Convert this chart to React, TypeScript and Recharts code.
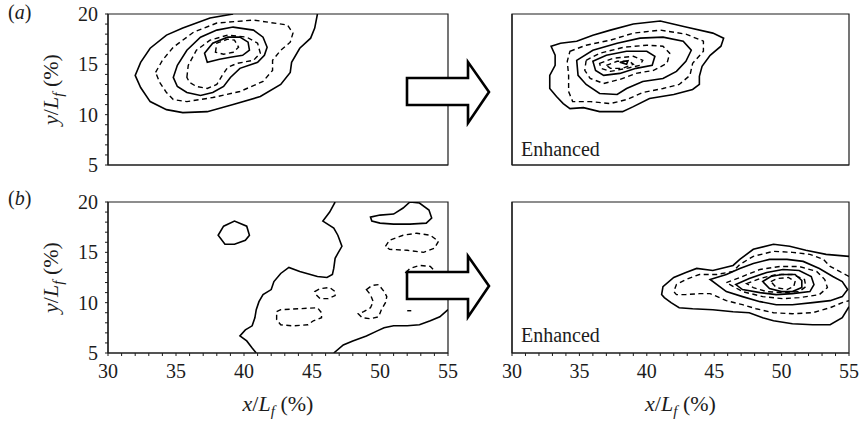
import { Line, LineChart, ReferenceArea, XAxis, YAxis } from 'recharts'

type Pt = { x: number; y: number }
type Contour = { data: Pt[]; dashed?: boolean; closed?: boolean }

const xTickLabels = [30, 35, 40, 45, 50, 55]
const yTickLabels = [5, 10, 15, 20]
const xTicks = Array.from({ length: 26 }, (_, i) => 30 + i)
const yTicks = Array.from({ length: 16 }, (_, i) => 5 + i)

// (a) measured
const aOuter: Pt[] = [
  { x: 39.2, y: 20 }, { x: 37.5, y: 19.6 }, { x: 35.5, y: 18.6 }, { x: 34.3, y: 17.9 },
  { x: 33.1, y: 16.6 }, { x: 32.4, y: 15.2 }, { x: 32.0, y: 13.9 }, { x: 32.4, y: 12.7 },
  { x: 33.1, y: 11.3 }, { x: 34.3, y: 10.5 }, { x: 35.5, y: 10.2 }, { x: 37.3, y: 10.3 },
  { x: 39.2, y: 11.0 }, { x: 41.2, y: 11.8 }, { x: 42.7, y: 13.0 }, { x: 43.4, y: 14.2 },
  { x: 43.5, y: 15.2 }, { x: 44.1, y: 16.6 }, { x: 44.9, y: 17.6 }, { x: 45.2, y: 18.6 },
  { x: 45.4, y: 20 },
]
const aDash1: Pt[] = [
  { x: 33.5, y: 14.2 }, { x: 34.0, y: 15.4 }, { x: 34.8, y: 16.7 }, { x: 36.3, y: 18.2 },
  { x: 38.0, y: 19.1 }, { x: 40.7, y: 19.4 }, { x: 43.2, y: 18.9 }, { x: 43.6, y: 18.1 },
  { x: 43.4, y: 17.2 }, { x: 42.7, y: 16.4 }, { x: 42.1, y: 15.4 }, { x: 42.1, y: 14.4 },
  { x: 41.4, y: 13.3 }, { x: 39.7, y: 12.3 }, { x: 37.7, y: 11.7 }, { x: 35.8, y: 11.3 },
  { x: 34.8, y: 11.5 }, { x: 34.3, y: 12.2 }, { x: 33.8, y: 13.2 },
]
const aSolid2: Pt[] = [
  { x: 34.8, y: 13.7 }, { x: 35.1, y: 14.9 }, { x: 35.8, y: 16.4 }, { x: 36.8, y: 17.7 },
  { x: 38.0, y: 18.4 }, { x: 39.2, y: 18.7 }, { x: 40.7, y: 18.4 }, { x: 41.4, y: 17.7 },
  { x: 41.7, y: 16.7 }, { x: 41.5, y: 15.9 }, { x: 41.0, y: 15.2 }, { x: 39.7, y: 14.6 },
  { x: 39.0, y: 13.7 }, { x: 38.5, y: 12.8 }, { x: 37.7, y: 12.2 }, { x: 36.8, y: 11.9 },
  { x: 35.8, y: 12.2 }, { x: 35.1, y: 12.8 },
]
const aDash2: Pt[] = [
  { x: 35.8, y: 13.7 }, { x: 35.9, y: 14.9 }, { x: 36.5, y: 16.4 }, { x: 37.5, y: 17.4 },
  { x: 38.8, y: 17.9 }, { x: 40.2, y: 17.7 }, { x: 41.0, y: 17.1 }, { x: 41.2, y: 16.1 },
  { x: 40.7, y: 15.4 }, { x: 39.5, y: 15.1 }, { x: 38.8, y: 14.7 }, { x: 38.4, y: 13.9 },
  { x: 38.0, y: 13.0 }, { x: 37.3, y: 12.6 }, { x: 36.5, y: 12.8 }, { x: 36.0, y: 13.2 },
]
const aSolid3: Pt[] = [
  { x: 37.3, y: 15.2 }, { x: 37.1, y: 16.1 }, { x: 37.7, y: 17.1 }, { x: 38.8, y: 17.7 },
  { x: 39.7, y: 17.7 }, { x: 40.3, y: 17.2 }, { x: 40.4, y: 16.4 }, { x: 39.9, y: 15.9 },
  { x: 39.0, y: 15.7 }, { x: 38.2, y: 15.5 },
]
const aDash3: Pt[] = [
  { x: 37.9, y: 16.2 }, { x: 38.0, y: 17.1 }, { x: 38.8, y: 17.5 }, { x: 39.3, y: 17.4 },
  { x: 39.6, y: 16.7 }, { x: 39.2, y: 16.2 }, { x: 38.5, y: 16.0 },
]

// (a) enhanced
const aeOuter: Pt[] = [
  { x: 32.9, y: 16.8 }, { x: 33.6, y: 17.1 }, { x: 34.8, y: 17.3 }, { x: 36.0, y: 17.9 },
  { x: 37.3, y: 18.4 }, { x: 39.0, y: 19.0 }, { x: 41.0, y: 19.3 }, { x: 42.9, y: 18.7 },
  { x: 44.9, y: 18.1 }, { x: 45.7, y: 17.6 }, { x: 45.5, y: 16.8 }, { x: 44.7, y: 15.9 },
  { x: 44.1, y: 14.8 }, { x: 43.9, y: 13.8 }, { x: 43.9, y: 13.0 }, { x: 43.4, y: 12.5 },
  { x: 42.0, y: 12.0 }, { x: 40.2, y: 11.6 }, { x: 39.0, y: 10.8 }, { x: 38.2, y: 10.3 },
  { x: 36.5, y: 10.3 }, { x: 35.3, y: 10.7 }, { x: 34.3, y: 10.6 }, { x: 33.8, y: 11.1 },
  { x: 33.3, y: 11.8 }, { x: 32.8, y: 12.6 }, { x: 32.8, y: 13.9 }, { x: 33.2, y: 14.9 },
  { x: 33.2, y: 15.9 },
]
const aeDash1: Pt[] = [
  { x: 34.3, y: 16.3 }, { x: 35.5, y: 16.9 }, { x: 37.3, y: 17.4 }, { x: 39.0, y: 18.1 },
  { x: 41.0, y: 18.4 }, { x: 42.9, y: 18.0 }, { x: 44.2, y: 17.3 }, { x: 44.2, y: 16.3 },
  { x: 43.4, y: 15.1 }, { x: 43.2, y: 13.9 }, { x: 42.4, y: 13.0 }, { x: 41.2, y: 12.6 },
  { x: 39.7, y: 12.2 }, { x: 38.5, y: 11.5 }, { x: 37.3, y: 11.1 }, { x: 35.8, y: 11.3 },
  { x: 34.5, y: 11.3 }, { x: 34.2, y: 12.3 }, { x: 34.2, y: 13.9 }, { x: 34.1, y: 15.3 },
]
const aeSolid2: Pt[] = [
  { x: 34.8, y: 15.4 }, { x: 36.0, y: 16.4 }, { x: 37.8, y: 17.1 }, { x: 39.5, y: 17.6 },
  { x: 41.2, y: 17.7 }, { x: 42.7, y: 17.3 }, { x: 43.3, y: 16.4 }, { x: 42.9, y: 15.3 },
  { x: 42.2, y: 14.3 }, { x: 41.2, y: 13.6 }, { x: 39.7, y: 13.3 }, { x: 38.5, y: 12.6 },
  { x: 37.8, y: 12.0 }, { x: 36.5, y: 12.1 }, { x: 35.5, y: 13.0 }, { x: 34.9, y: 13.9 },
]
const aeDash2: Pt[] = [
  { x: 35.5, y: 15.4 }, { x: 36.5, y: 16.1 }, { x: 38.3, y: 16.7 }, { x: 40.0, y: 16.9 },
  { x: 41.2, y: 16.8 }, { x: 41.7, y: 16.1 }, { x: 41.5, y: 15.1 }, { x: 40.5, y: 14.4 },
  { x: 39.2, y: 14.1 }, { x: 38.0, y: 13.5 }, { x: 36.8, y: 13.1 }, { x: 35.8, y: 13.6 },
  { x: 35.4, y: 14.4 },
]
const aeSolid3: Pt[] = [
  { x: 36.0, y: 15.3 }, { x: 37.0, y: 15.9 }, { x: 38.5, y: 16.3 }, { x: 40.0, y: 16.3 },
  { x: 40.6, y: 15.8 }, { x: 40.4, y: 14.9 }, { x: 39.2, y: 14.6 }, { x: 38.0, y: 14.1 },
  { x: 36.8, y: 13.9 }, { x: 36.2, y: 14.4 },
]
const aeDash3: Pt[] = [
  { x: 36.5, y: 15.1 }, { x: 37.5, y: 15.6 }, { x: 39.0, y: 15.8 }, { x: 39.7, y: 15.4 },
  { x: 39.5, y: 14.9 }, { x: 38.5, y: 14.6 }, { x: 37.3, y: 14.3 }, { x: 36.6, y: 14.6 },
]
const aeDash4: Pt[] = [
  { x: 37.0, y: 14.9 }, { x: 37.8, y: 15.3 }, { x: 38.7, y: 15.3 }, { x: 39.0, y: 15.0 },
  { x: 38.2, y: 14.6 }, { x: 37.3, y: 14.6 },
]
const aePeak: Pt[] = [{ x: 38.0, y: 15.2 }, { x: 38.6, y: 15.35 }, { x: 38.5, y: 15.0 }]

// (b) measured
const bIsland: Pt[] = [
  { x: 38.1, y: 16.7 }, { x: 38.5, y: 17.6 }, { x: 39.3, y: 18.1 }, { x: 40.2, y: 17.6 },
  { x: 40.4, y: 16.7 }, { x: 40.1, y: 16.2 }, { x: 39.3, y: 15.8 }, { x: 38.6, y: 15.8 },
]
const bRidge: Pt[] = [
  { x: 46.7, y: 20 }, { x: 46.3, y: 19.0 }, { x: 45.8, y: 18.1 }, { x: 46.6, y: 17.4 },
  { x: 46.9, y: 16.7 }, { x: 47.2, y: 15.6 }, { x: 46.9, y: 14.9 }, { x: 46.7, y: 14.4 },
  { x: 46.6, y: 13.4 }, { x: 46.5, y: 12.8 }, { x: 46.1, y: 12.5 }, { x: 45.4, y: 12.6 },
  { x: 44.1, y: 13.1 }, { x: 43.3, y: 13.5 }, { x: 42.7, y: 12.9 }, { x: 42.2, y: 12.1 },
  { x: 42.0, y: 11.3 }, { x: 41.4, y: 10.8 }, { x: 41.1, y: 10.1 }, { x: 40.9, y: 9.3 },
  { x: 40.8, y: 8.5 }, { x: 40.6, y: 7.7 }, { x: 40.1, y: 7.3 }, { x: 39.7, y: 6.7 },
  { x: 40.2, y: 6.2 }, { x: 40.6, y: 5.5 }, { x: 40.9, y: 5 },
]
const bFloor: Pt[] = [
  { x: 46.6, y: 5 }, { x: 47.3, y: 5.8 }, { x: 48.0, y: 6.2 }, { x: 49.0, y: 6.7 },
  { x: 49.8, y: 7.2 }, { x: 50.3, y: 7.5 }, { x: 51.0, y: 7.7 }, { x: 52.0, y: 7.7 },
  { x: 52.9, y: 7.8 }, { x: 53.7, y: 8.2 }, { x: 54.4, y: 8.6 }, { x: 55, y: 9.3 },
]
const bTopLoop: Pt[] = [
  { x: 49.3, y: 18.5 }, { x: 50.0, y: 18.7 }, { x: 51.0, y: 18.8 }, { x: 51.7, y: 19.4 },
  { x: 52.2, y: 20.0 }, { x: 52.9, y: 19.9 }, { x: 53.6, y: 19.2 }, { x: 53.8, y: 18.4 },
  { x: 53.4, y: 17.9 }, { x: 52.2, y: 17.8 }, { x: 51.0, y: 17.8 }, { x: 50.0, y: 17.9 },
  { x: 49.4, y: 18.1 },
]
const bDashUpper: Pt[] = [
  { x: 50.4, y: 15.6 }, { x: 50.7, y: 16.2 }, { x: 51.7, y: 16.7 }, { x: 52.7, y: 16.9 },
  { x: 53.7, y: 16.7 }, { x: 54.3, y: 16.1 }, { x: 54.0, y: 15.4 }, { x: 53.2, y: 15.0 },
  { x: 52.0, y: 15.2 }, { x: 50.7, y: 15.3 },
]
const bDashHidden: Pt[] = [
  { x: 51.9, y: 13.0 }, { x: 52.2, y: 13.4 }, { x: 52.9, y: 13.7 }, { x: 53.7, y: 13.6 },
  { x: 54.0, y: 13.2 }, { x: 53.5, y: 12.6 }, { x: 52.5, y: 12.6 },
]
const bDashSmall: Pt[] = [
  { x: 45.2, y: 11.1 }, { x: 45.6, y: 11.4 }, { x: 46.3, y: 11.5 }, { x: 46.7, y: 11.1 },
  { x: 46.7, y: 10.7 }, { x: 46.2, y: 10.4 }, { x: 45.6, y: 10.4 }, { x: 45.3, y: 10.8 },
]
const bDashBox: Pt[] = [
  { x: 42.4, y: 9.1 }, { x: 42.7, y: 9.3 }, { x: 44.1, y: 9.4 }, { x: 45.4, y: 9.5 },
  { x: 45.7, y: 9.0 }, { x: 45.7, y: 8.5 }, { x: 45.1, y: 8.2 }, { x: 44.7, y: 7.8 },
  { x: 43.6, y: 7.7 }, { x: 42.7, y: 7.8 }, { x: 42.4, y: 8.3 },
]
const bDashHook: Pt[] = [
  { x: 49.0, y: 11.3 }, { x: 49.4, y: 11.7 }, { x: 49.9, y: 11.8 }, { x: 50.3, y: 11.1 },
  { x: 50.5, y: 10.6 }, { x: 50.4, y: 10.0 }, { x: 50.1, y: 9.3 }, { x: 49.9, y: 8.6 },
  { x: 49.3, y: 8.4 }, { x: 48.7, y: 8.5 }, { x: 48.4, y: 8.9 }, { x: 48.8, y: 9.1 },
  { x: 49.3, y: 9.5 }, { x: 49.5, y: 10.1 }, { x: 49.3, y: 10.8 },
]
const bDot: Pt[] = [{ x: 52.0, y: 9.2 }, { x: 52.3, y: 9.2 }]

// (b) enhanced
const beOuter: Pt[] = [
  { x: 55, y: 14.6 }, { x: 53.3, y: 14.8 }, { x: 51.8, y: 15.2 }, { x: 50.6, y: 15.6 },
  { x: 49.4, y: 15.8 }, { x: 47.9, y: 15.3 }, { x: 46.9, y: 14.3 }, { x: 46.4, y: 13.7 },
  { x: 44.9, y: 13.2 }, { x: 43.7, y: 13.4 }, { x: 42.9, y: 13.0 }, { x: 42.0, y: 12.5 },
  { x: 41.2, y: 11.6 }, { x: 41.1, y: 10.8 }, { x: 41.3, y: 10.5 }, { x: 41.8, y: 10.0 },
  { x: 42.4, y: 9.5 }, { x: 43.4, y: 9.4 }, { x: 44.9, y: 9.3 }, { x: 46.4, y: 9.1 },
  { x: 47.6, y: 9.0 }, { x: 48.6, y: 8.5 }, { x: 49.4, y: 8.2 }, { x: 50.8, y: 7.9 },
  { x: 52.3, y: 7.8 }, { x: 53.6, y: 7.8 }, { x: 54.5, y: 8.5 }, { x: 55, y: 9.6 },
]
const beDash1: Pt[] = [
  { x: 55, y: 12.6 }, { x: 54.3, y: 13.1 }, { x: 53.6, y: 13.6 }, { x: 53.1, y: 14.3 },
  { x: 52.1, y: 14.8 }, { x: 50.8, y: 15.0 }, { x: 49.4, y: 15.1 }, { x: 47.9, y: 14.6 },
  { x: 46.9, y: 13.8 }, { x: 46.4, y: 13.1 }, { x: 45.2, y: 12.8 }, { x: 43.9, y: 12.8 },
  { x: 42.9, y: 12.3 }, { x: 42.2, y: 11.8 }, { x: 42.0, y: 11.1 }, { x: 42.2, y: 10.8 },
  { x: 42.9, y: 10.8 }, { x: 43.9, y: 10.9 }, { x: 44.7, y: 10.9 }, { x: 45.9, y: 10.2 },
  { x: 47.1, y: 9.8 }, { x: 48.1, y: 9.4 }, { x: 49.4, y: 9.0 }, { x: 50.8, y: 8.9 },
  { x: 52.3, y: 9.0 }, { x: 53.6, y: 9.5 }, { x: 54.5, y: 10.0 }, { x: 55, y: 10.2 },
]
const beSolid2: Pt[] = [
  { x: 44.7, y: 12.3 }, { x: 45.9, y: 12.8 }, { x: 46.9, y: 13.4 }, { x: 47.9, y: 13.9 },
  { x: 49.1, y: 14.3 }, { x: 50.4, y: 14.3 }, { x: 51.6, y: 14.1 }, { x: 52.8, y: 13.4 },
  { x: 53.8, y: 12.6 }, { x: 54.5, y: 12.1 }, { x: 54.9, y: 11.3 }, { x: 54.5, y: 10.6 },
  { x: 53.6, y: 10.2 }, { x: 52.3, y: 10.0 }, { x: 50.8, y: 9.8 }, { x: 49.6, y: 9.8 },
  { x: 48.4, y: 10.1 }, { x: 47.1, y: 10.6 }, { x: 45.9, y: 11.1 },
]
const beDash2: Pt[] = [
  { x: 45.9, y: 12.0 }, { x: 46.9, y: 12.5 }, { x: 48.4, y: 13.3 }, { x: 49.9, y: 13.6 },
  { x: 51.3, y: 13.6 }, { x: 52.6, y: 13.1 }, { x: 53.2, y: 12.3 }, { x: 53.4, y: 11.5 },
  { x: 52.8, y: 10.8 }, { x: 51.3, y: 10.5 }, { x: 50.1, y: 10.4 }, { x: 48.6, y: 10.6 },
  { x: 47.1, y: 11.1 },
]
const beSolid3: Pt[] = [
  { x: 46.6, y: 11.8 }, { x: 47.6, y: 12.4 }, { x: 48.9, y: 13.0 }, { x: 50.1, y: 13.3 },
  { x: 51.3, y: 13.2 }, { x: 52.2, y: 12.6 }, { x: 52.4, y: 11.8 }, { x: 52.1, y: 11.1 },
  { x: 50.8, y: 10.9 }, { x: 49.6, y: 10.8 }, { x: 48.4, y: 11.0 }, { x: 47.1, y: 11.3 },
]
const beDash3: Pt[] = [
  { x: 47.4, y: 11.9 }, { x: 48.4, y: 12.4 }, { x: 49.6, y: 12.8 }, { x: 50.8, y: 12.8 },
  { x: 51.7, y: 12.3 }, { x: 51.8, y: 11.6 }, { x: 51.3, y: 11.1 }, { x: 50.1, y: 11.0 },
  { x: 48.9, y: 11.1 }, { x: 47.9, y: 11.5 },
]
const beSolid4: Pt[] = [
  { x: 48.6, y: 12.1 }, { x: 49.2, y: 12.6 }, { x: 50.0, y: 12.8 }, { x: 51.0, y: 12.8 },
  { x: 51.5, y: 12.2 }, { x: 51.5, y: 11.5 }, { x: 50.8, y: 11.1 }, { x: 50.0, y: 11.1 },
  { x: 49.1, y: 11.4 },
]
const beDash4: Pt[] = [
  { x: 49.2, y: 12.1 }, { x: 49.7, y: 12.4 }, { x: 50.5, y: 12.5 }, { x: 51.0, y: 12.1 },
  { x: 50.9, y: 11.6 }, { x: 50.4, y: 11.3 }, { x: 49.6, y: 11.5 },
]

const aContours: Contour[] = [
  { data: aOuter },
  { data: aDash1, dashed: true, closed: true },
  { data: aSolid2, closed: true },
  { data: aDash2, dashed: true, closed: true },
  { data: aSolid3, closed: true },
  { data: aDash3, dashed: true, closed: true },
]
const aeContours: Contour[] = [
  { data: aeOuter, closed: true },
  { data: aeDash1, dashed: true, closed: true },
  { data: aeSolid2, closed: true },
  { data: aeDash2, dashed: true, closed: true },
  { data: aeSolid3, closed: true },
  { data: aeDash3, dashed: true, closed: true },
  { data: aeDash4, dashed: true, closed: true },
  { data: aePeak, closed: true },
]
const bContours: Contour[] = [
  { data: bIsland, closed: true },
  { data: bRidge },
  { data: bFloor },
  { data: bTopLoop, closed: true },
  { data: bDashUpper, dashed: true, closed: true },
  { data: bDashHidden, dashed: true, closed: true },
  { data: bDashSmall, dashed: true, closed: true },
  { data: bDashBox, dashed: true, closed: true },
  { data: bDashHook, dashed: true, closed: true },
  { data: bDot, dashed: true },
]
const beContours: Contour[] = [
  { data: beOuter },
  { data: beDash1, dashed: true },
  { data: beSolid2, closed: true },
  { data: beDash2, dashed: true, closed: true },
  { data: beSolid3, closed: true },
  { data: beDash3, dashed: true, closed: true },
  { data: beSolid4, closed: true },
  { data: beDash4, dashed: true, closed: true },
]

const ink = '#1c1c1c'
const serif = 'Liberation Serif'

function SerifText({ children, ...rest }: any) {
  return (
    <text fontSize={20} fontFamily={serif} fill={ink} {...rest}>
      {children}
    </text>
  )
}

function XTick({ x, y, payload }: any) {
  if (!xTickLabels.includes(payload.value)) return <g />
  return (
    <SerifText x={x} y={y + 20} textAnchor="middle">
      {payload.value}
    </SerifText>
  )
}

function YTick({ x, y, payload }: any) {
  if (!yTickLabels.includes(payload.value)) return <g />
  return (
    <SerifText x={x} y={y + 7} textAnchor="end">
      {payload.value}
    </SerifText>
  )
}

function XTitle({ viewBox }: any) {
  const cx = viewBox.x + viewBox.width / 2
  return (
    <SerifText x={cx} y={viewBox.y + 58} textAnchor="middle" fontSize={22}>
      <tspan fontStyle="italic">x</tspan>/<tspan fontStyle="italic">L</tspan>
      <tspan fontStyle="italic" fontSize={15} dy={5}>f</tspan>
      <tspan dy={-5}> (%)</tspan>
    </SerifText>
  )
}

function YTitle({ viewBox }: any) {
  const cy = viewBox.y + viewBox.height / 2
  return (
    <SerifText transform={`translate(${viewBox.x + 58},${cy}) rotate(-90)`} textAnchor="middle" fontSize={22}>
      <tspan fontStyle="italic">y</tspan>/<tspan fontStyle="italic">L</tspan>
      <tspan fontStyle="italic" fontSize={15} dy={5}>f</tspan>
      <tspan dy={-5}> (%)</tspan>
    </SerifText>
  )
}

function Panel({
  left,
  top,
  width,
  height,
  marginRight,
  yAxisWidth,
  xAxisHeight,
  contours,
  showX,
  showY,
}: {
  left: number
  top: number
  width: number
  height: number
  marginRight: number
  yAxisWidth: number
  xAxisHeight: number
  contours: Contour[]
  showX: boolean
  showY: boolean
}) {
  return (
    <div style={{ position: 'absolute', left, top }}>
      <LineChart width={width} height={height} margin={{ top: 14, right: marginRight, bottom: 0, left: 0 }}>
        <XAxis
          type="number"
          dataKey="x"
          domain={[30, 55]}
          ticks={xTicks}
          interval={0}
          allowDataOverflow
          height={xAxisHeight}
          tickSize={3}
          tickMargin={2}
          axisLine={{ stroke: ink, strokeWidth: 1.2 }}
          tickLine={{ stroke: ink }}
          tick={showX ? XTick : false}
          label={showX ? XTitle : undefined}
        />
        <YAxis
          type="number"
          dataKey="y"
          domain={[5, 20]}
          ticks={yTicks}
          interval={0}
          allowDataOverflow
          width={yAxisWidth}
          tickSize={3}
          tickMargin={7}
          axisLine={{ stroke: ink, strokeWidth: 1.2 }}
          tickLine={{ stroke: ink }}
          tick={showY ? YTick : false}
          label={showY ? YTitle : undefined}
        />
        <ReferenceArea x1={30} x2={55} y1={5} y2={20} fill="none" stroke={ink} strokeWidth={1.2} ifOverflow="visible" />
        {contours.map((c, i) => (
          <Line
            key={i}
            data={c.data}
            dataKey="y"
            type={c.closed ? 'linearClosed' : 'linear'}
            stroke="#000"
            strokeWidth={c.dashed ? 1.4 : 1.6}
            strokeDasharray={c.dashed ? '5 3.5' : undefined}
            dot={false}
            activeDot={false}
            isAnimationActive={false}
          />
        ))}
      </LineChart>
    </div>
  )
}

function arrowPoints(dy: number) {
  const p = [
    [407, 78], [468, 78], [468, 62], [489, 92], [468, 123], [468, 105], [407, 105],
  ]
  return p.map(([x, y]) => `${x},${y + dy}`).join(' ')
}

export default function App() {
  return (
    <div style={{ position: 'absolute', left: 0, top: 0, width: 861, height: 421, background: '#fff' }}>
      <Panel left={0} top={0} width={461} height={190} marginRight={13} yAxisWidth={108} xAxisHeight={25} contours={aContours} showX={false} showY />
      <Panel left={461} top={0} width={400} height={190} marginRight={12} yAxisWidth={51} xAxisHeight={25} contours={aeContours} showX={false} showY={false} />
      <Panel left={0} top={188} width={461} height={233} marginRight={13} yAxisWidth={108} xAxisHeight={68} contours={bContours} showX showY />
      <Panel left={461} top={188} width={400} height={233} marginRight={12} yAxisWidth={51} xAxisHeight={68} contours={beContours} showX showY={false} />
      <svg width={861} height={421} style={{ position: 'absolute', left: 0, top: 0, pointerEvents: 'none' }}>
        <polygon points={arrowPoints(0)} fill="#fff" stroke="#000" strokeWidth={2.6} strokeLinejoin="miter" />
        <polygon points={arrowPoints(194)} fill="#fff" stroke="#000" strokeWidth={2.6} strokeLinejoin="miter" />
        <SerifText x={8} y={19}>
          (<tspan fontStyle="italic">a</tspan>)
        </SerifText>
        <SerifText x={8} y={205}>
          (<tspan fontStyle="italic">b</tspan>)
        </SerifText>
        <SerifText x={521} y={156}>Enhanced</SerifText>
        <SerifText x={521} y={342}>Enhanced</SerifText>
      </svg>
    </div>
  )
}
